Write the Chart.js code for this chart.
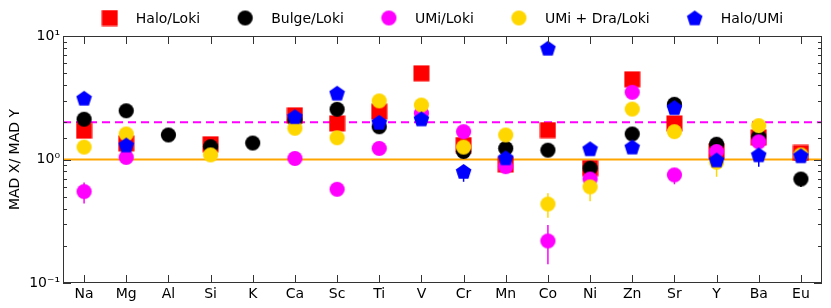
<!DOCTYPE html>
<html>
<head>
<meta charset="utf-8">
<script src="https://cdn.jsdelivr.net/npm/chart.js@4.4.1/dist/chart.umd.min.js"></script>
<style>
  html, body { margin: 0; padding: 0; background: #fff; }
  #wrap { width: 831px; height: 308px; }
</style>
</head>
<body>
<div id="wrap"><canvas id="madChart"></canvas></div>
<script>
// 元素
const elements = ['Na', 'Mg', 'Al', 'Si', 'K', 'Ca', 'Sc', 'Ti', 'V', 'Cr', 'Mn', 'Co', 'Ni', 'Zn', 'Sr', 'Y', 'Ba', 'Eu'];

// 各比值
const haloLoki   = [1.71, 1.35, null, 1.33, null, 2.28, 1.96, 2.44, 4.99, 1.31, 0.91, 1.73, 0.85, 4.46, 1.96, 1.17, 1.51, 1.13];
const bulgeLoki  = [2.12, 2.48, 1.58, 1.27, 1.36, 2.09, 2.55, 1.84, null, 1.16, 1.23, 1.19, 0.85, 1.61, 2.80, 1.33, 1.53, 0.695];
const umiLoki    = [0.55, 1.04, null, null, null, 1.02, 0.574, 1.23, 2.37, 1.68, 0.875, 0.219, 0.695, 3.50, 0.75, 1.16, 1.39, null];
const umiDraLoki = [1.26, 1.61, null, 1.09, null, 1.79, 1.50, 2.98, 2.76, 1.26, 1.58, 0.436, 0.60, 2.56, 1.68, 0.95, 1.88, 1.09];
const haloUmi    = [3.13, 1.31, null, null, null, 2.22, 3.44, 2.00, 2.13, 0.80, 1.03, 7.95, 1.22, 1.26, 2.63, 0.99, 1.09, 1.07];

// 误差范围 [下限, 上限]
const bulgeErr  = { Eu: [0.60, 0.75] };
const umiErr    = { Na: [0.44, 0.65], Co: [0.142, 0.295], Sr: [0.63, 0.82] };
const umiDraErr = { Co: [0.338, 0.532], Ni: [0.46, 0.66], Y: [0.725, 1.05] };
const haloUmiErr = { Cr: [0.66, 0.875], Ba: [0.875, 1.19] };

// 参考线
const refSolid = 1;
const refDashed = 2;

// y轴刻度
const yTickValues = [0.1, 1, 10];
const yTickLabels = ['10\u207B\u00B9', '10\u2070', '10\u00B9'];

const FONT = 'DejaVu Sans';

// 生成标记图像
function makeMarker(shape, color) {
    const c = document.createElement('canvas');
    const s = 17;
    c.width = s; c.height = s;
    const g = c.getContext('2d');
    g.fillStyle = color;
    const m = s / 2;
    if (shape === 'square') {
        g.fillRect(0.5, 0.5, 16, 16);
    } else if (shape === 'circle') {
        g.beginPath();
        g.arc(m, m, 7.6, 0, Math.PI * 2);
        g.fill();
    } else {
        g.beginPath();
        for (let i = 0; i < 5; i++) {
            const a = -Math.PI / 2 + i * 2 * Math.PI / 5;
            const px = m + 8.2 * Math.cos(a);
            const py = m + 0.6 + 8.2 * Math.sin(a);
            if (i === 0) g.moveTo(px, py); else g.lineTo(px, py);
        }
        g.closePath();
        g.fill();
    }
    return c;
}

const series = [
    { label: 'Halo/Loki', data: haloLoki, color: '#ff0000', shape: 'square', err: {}, order: 5 },
    { label: 'Bulge/Loki', data: bulgeLoki, color: '#000000', shape: 'circle', err: bulgeErr, order: 4 },
    { label: 'UMi/Loki', data: umiLoki, color: '#ff00ff', shape: 'circle', err: umiErr, order: 3 },
    { label: 'UMi + Dra/Loki', data: umiDraLoki, color: '#ffd700', shape: 'circle', err: umiDraErr, order: 2 },
    { label: 'Halo/UMi', data: haloUmi, color: '#0000ff', shape: 'pentagon', err: haloUmiErr, order: 1 }
];
series.forEach(s => { s.img = makeMarker(s.shape, s.color); });

// 参考线 + 误差棒 (在数据点之下)
const underlayPlugin = {
    id: 'underlay',
    beforeDatasetsDraw(chart) {
        const { ctx, chartArea, scales } = chart;
        const y = scales.y, x = scales.x;
        ctx.save();
        ctx.lineWidth = 2;
        ctx.strokeStyle = '#ffa500';
        let py = y.getPixelForValue(refSolid);
        ctx.beginPath(); ctx.moveTo(chartArea.left, py); ctx.lineTo(chartArea.right, py); ctx.stroke();
        ctx.strokeStyle = '#ff00ff';
        ctx.setLineDash([8, 5]);
        py = y.getPixelForValue(refDashed);
        ctx.beginPath(); ctx.moveTo(chartArea.left, py); ctx.lineTo(chartArea.right, py); ctx.stroke();
        ctx.setLineDash([]);
        ctx.lineWidth = 1.5;
        series.forEach(s => {
            ctx.strokeStyle = s.color;
            Object.keys(s.err).forEach(el => {
                const i = elements.indexOf(el);
                const px = x.getPixelForValue(i);
                ctx.beginPath();
                ctx.moveTo(px, y.getPixelForValue(s.err[el][0]));
                ctx.lineTo(px, y.getPixelForValue(s.err[el][1]));
                ctx.stroke();
            });
        });
        ctx.restore();
    }
};

// 边框、内向刻度、图例
const framePlugin = {
    id: 'frame',
    afterDraw(chart) {
        const { ctx, chartArea, scales } = chart;
        const { left, right, top, bottom } = chartArea;
        ctx.save();
        ctx.strokeStyle = '#333';
        ctx.lineWidth = 1;
        ctx.strokeRect(left + 0.5, top + 0.5, right - left - 1, bottom - top - 1);
        ctx.beginPath();
        scales.x.ticks.forEach((t, i) => {
            const px = Math.round(scales.x.getPixelForTick(i)) + 0.5;
            ctx.moveTo(px, bottom); ctx.lineTo(px, bottom - 8);
            ctx.moveTo(px, top); ctx.lineTo(px, top + 8);
        });
        scales.y.ticks.forEach(t => {
            const major = yTickValues.some(v => Math.abs(v - t.value) < 1e-9);
            const len = major ? 8 : 4;
            const py = Math.round(scales.y.getPixelForValue(t.value)) + 0.5;
            ctx.moveTo(left, py); ctx.lineTo(left + len, py);
            ctx.moveTo(right, py); ctx.lineTo(right - len, py);
        });
        ctx.stroke();

        // 图例
        ctx.font = '14px "' + FONT + '"';
        ctx.textBaseline = 'middle';
        ctx.fillStyle = '#000';
        const markW = 16, gapText = 18, gapItem = 37;
        const widths = series.map(s => ctx.measureText(s.label).width);
        let total = 0;
        widths.forEach((w, i) => { total += markW + gapText + w + (i > 0 ? gapItem : 0); });
        let cx = (left + right) / 2 - total / 2;
        const ly = 18;
        series.forEach((s, i) => {
            ctx.drawImage(s.img, cx + markW / 2 - s.img.width / 2, ly - s.img.height / 2);
            ctx.fillText(s.label, cx + markW + gapText, ly + 1);
            cx += markW + gapText + widths[i] + gapItem;
        });
        ctx.restore();
    }
};

new Chart(document.getElementById('madChart'), {
    type: 'line',
    data: {
        labels: elements,
        datasets: series.map(s => ({
            label: s.label,
            data: s.data,
            showLine: false,
            pointStyle: s.img,
            pointRadius: 8,
            pointHoverRadius: 8,
            borderColor: s.color,
            backgroundColor: s.color,
            order: s.order
        }))
    },
    options: {
        responsive: true,
        maintainAspectRatio: false,
        animation: false,
        layout: { padding: { top: 36, right: 7, left: 0, bottom: 0 } },
        plugins: {
            legend: { display: false },
            tooltip: { enabled: false }
        },
        scales: {
            x: {
                type: 'category',
                offset: true,
                grid: { display: false, drawTicks: false },
                border: { display: false },
                ticks: {
                    color: '#000',
                    font: { family: FONT, size: 14 },
                    padding: 3,
                    autoSkip: false,
                    maxRotation: 0
                },
                afterFit(scale) { scale.height = 25; }
            },
            y: {
                type: 'logarithmic',
                min: 0.1,
                max: 10,
                grid: { display: false, drawTicks: false },
                border: { display: false },
                ticks: {
                    color: '#000',
                    font: { family: FONT, size: 14 },
                    padding: 3,
                    autoSkip: false,
                    callback: function(value) {
                        const i = yTickValues.findIndex(v => Math.abs(v - value) < 1e-9);
                        return i >= 0 ? yTickLabels[i] : '';
                    }
                },
                title: {
                    display: true,
                    text: 'MAD X/ MAD Y',
                    color: '#000',
                    font: { family: FONT, size: 14 },
                    padding: { top: 7, bottom: 0 }
                },
                afterFit(scale) { scale.width = 63; }
            }
        }
    },
    plugins: [underlayPlugin, framePlugin]
});
</script>
</body>
</html>
